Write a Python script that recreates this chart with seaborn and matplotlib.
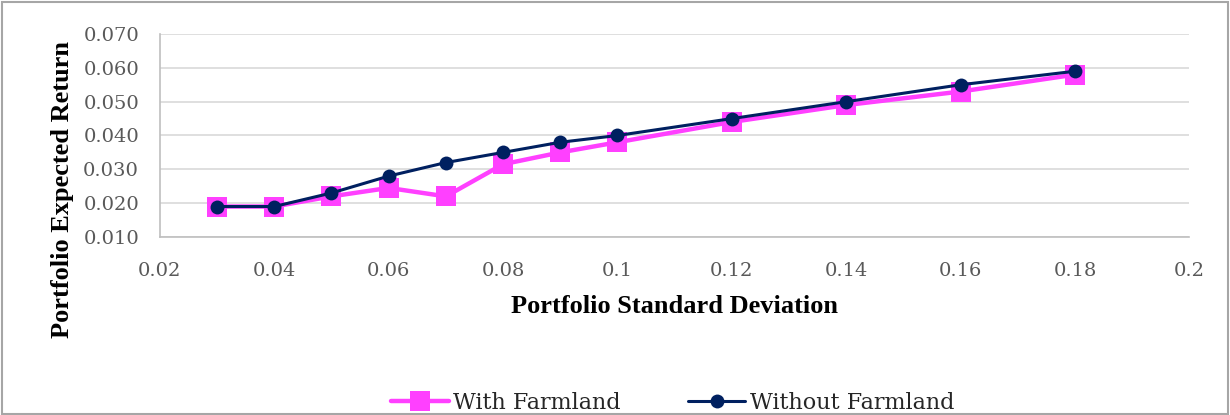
import matplotlib
matplotlib.use("Agg")
import matplotlib.pyplot as plt
import seaborn as sns
import pandas as pd
from matplotlib.patches import Rectangle
from matplotlib.lines import Line2D

# Efficient frontier points: standard deviation vs expected return
std_dev = [0.03, 0.04, 0.05, 0.06, 0.07, 0.08, 0.09, 0.10, 0.12, 0.14, 0.16, 0.18]
with_farmland = [0.019, 0.019, 0.022, 0.0245, 0.022, 0.0315, 0.035, 0.038, 0.044, 0.049, 0.053, 0.058]
without_farmland = [0.019, 0.019, 0.023, 0.028, 0.032, 0.035, 0.038, 0.040, 0.045, 0.050, 0.055, 0.059]

x_ticks = [0.02, 0.04, 0.06, 0.08, 0.1, 0.12, 0.14, 0.16, 0.18, 0.2]
x_tick_labels = ["0.02", "0.04", "0.06", "0.08", "0.1", "0.12", "0.14", "0.16", "0.18", "0.2"]
y_ticks = [0.010, 0.020, 0.030, 0.040, 0.050, 0.060, 0.070]

pink = "#FF40FF"
navy = "#002060"

sns.set_theme(style="white")
plt.rcParams["font.family"] = ["DejaVu Serif"]

fig = plt.figure(figsize=(12.3, 4.15), dpi=100)
ax = fig.add_axes([0.130, 0.429, 0.837, 0.489])

df_with = pd.DataFrame({"sd": std_dev, "ret": with_farmland})
df_without = pd.DataFrame({"sd": std_dev, "ret": without_farmland})

sns.lineplot(data=df_with, x="sd", y="ret", ax=ax, color=pink, linewidth=3.2,
             marker="s", markersize=14, markeredgewidth=0, zorder=3)
sns.lineplot(data=df_without, x="sd", y="ret", ax=ax, color=navy, linewidth=2.2,
             marker="o", markersize=10, markeredgewidth=0, zorder=4)

ax.set_xlim(0.02, 0.2)
ax.set_ylim(0.010, 0.070)
ax.set_xticks(x_ticks)
ax.set_xticklabels(x_tick_labels)
ax.set_yticks(y_ticks)
ax.set_yticklabels([f"{v:.3f}" for v in y_ticks])
ax.tick_params(axis="both", labelsize=14, labelcolor="#595959", length=0)
ax.tick_params(axis="x", pad=18)
ax.tick_params(axis="y", pad=15)

ax.yaxis.grid(True, color="#D9D9D9", linewidth=1.2)
ax.xaxis.grid(False)
for side in ["top", "right"]:
    ax.spines[side].set_visible(False)
for side in ["left", "bottom"]:
    ax.spines[side].set_color("#BFBFBF")
    ax.spines[side].set_linewidth(1.2)

label_font = {"family": ["Liberation Serif", "DejaVu Serif"], "size": 19,
              "weight": "bold", "color": "black"}
ax.set_xlabel("Portfolio Standard Deviation", fontdict=label_font, labelpad=11)
ax.set_ylabel("Portfolio Expected Return", fontdict=label_font)
ax.yaxis.set_label_coords(-0.095, 0.236)
ax.yaxis.label.set_verticalalignment("center")

handles = [
    Line2D([0], [0], color=pink, linewidth=3.2, marker="s", markersize=14, markeredgewidth=0),
    Line2D([0], [0], color=navy, linewidth=2.2, marker="o", markersize=10, markeredgewidth=0),
]
fig.legend(handles, ["With Farmland", "Without Farmland"], loc="lower center",
           bbox_to_anchor=(0.547, -0.045), ncol=2, frameon=False, fontsize=16,
           handlelength=2.6, handletextpad=0.2, columnspacing=3.0)

# Outer chart frame
fig.add_artist(Rectangle((0.002, 0.002), 0.996, 0.993, transform=fig.transFigure,
                         fill=False, edgecolor="#A6A6A6", linewidth=1.5))

fig.savefig("out.png", dpi=100)
